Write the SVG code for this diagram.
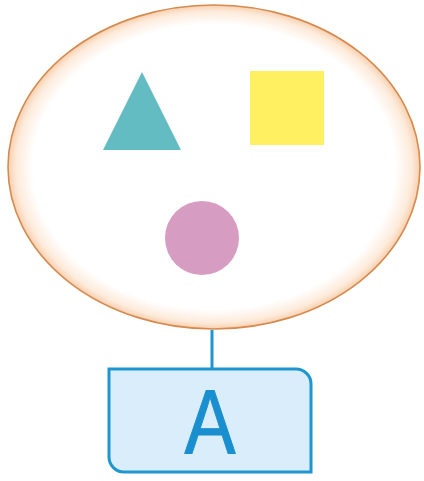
<svg xmlns="http://www.w3.org/2000/svg" width="424" height="481" viewBox="0 0 424 481">
<defs>
<radialGradient id="glow" cx="0.5" cy="0.5" r="0.5">
<stop offset="0.88" stop-color="#ffffff"/>
<stop offset="0.96" stop-color="#fdebdb"/>
<stop offset="1" stop-color="#f8cfae"/>
</radialGradient>
<style>
.set{fill:url(#glow);stroke:#d58a4e;stroke-width:1.6}
.conn{stroke:#1e96cf;stroke-width:3;fill:none}
.box{fill:#d9eefa;stroke:#1e96cf;stroke-width:3}
.lbl{font-family:"Liberation Sans",Arial,sans-serif;font-size:90px;fill:#1a8fd0;stroke:#1a8fd0;stroke-width:1;stroke-linejoin:round}
</style>
</defs>
<rect width="424" height="481" fill="#ffffff"/>
<g id="set">
<ellipse class="set" cx="214" cy="167" rx="206" ry="162"/>
</g>
<g id="triangle">
<polygon points="142,72 181,150 103,150" fill="#62bcc1"/>
</g>
<g id="square">
<rect x="250" y="71" width="74" height="74" fill="#fef061"/>
</g>
<g id="circle">
<circle cx="202" cy="238" r="37" fill="#d79cc2"/>
</g>
<g id="connectors">
<line class="conn" x1="212" y1="330" x2="212" y2="369"/>
</g>
<g id="nodeA">
<path class="box" d="M109,369 H296 A15,15 0 0 1 311,384 V472 H124 A15,15 0 0 1 109,457 Z"/>
<text class="lbl" transform="translate(210,453) scale(0.85,1)" text-anchor="middle">A</text>
</g>
</svg>
